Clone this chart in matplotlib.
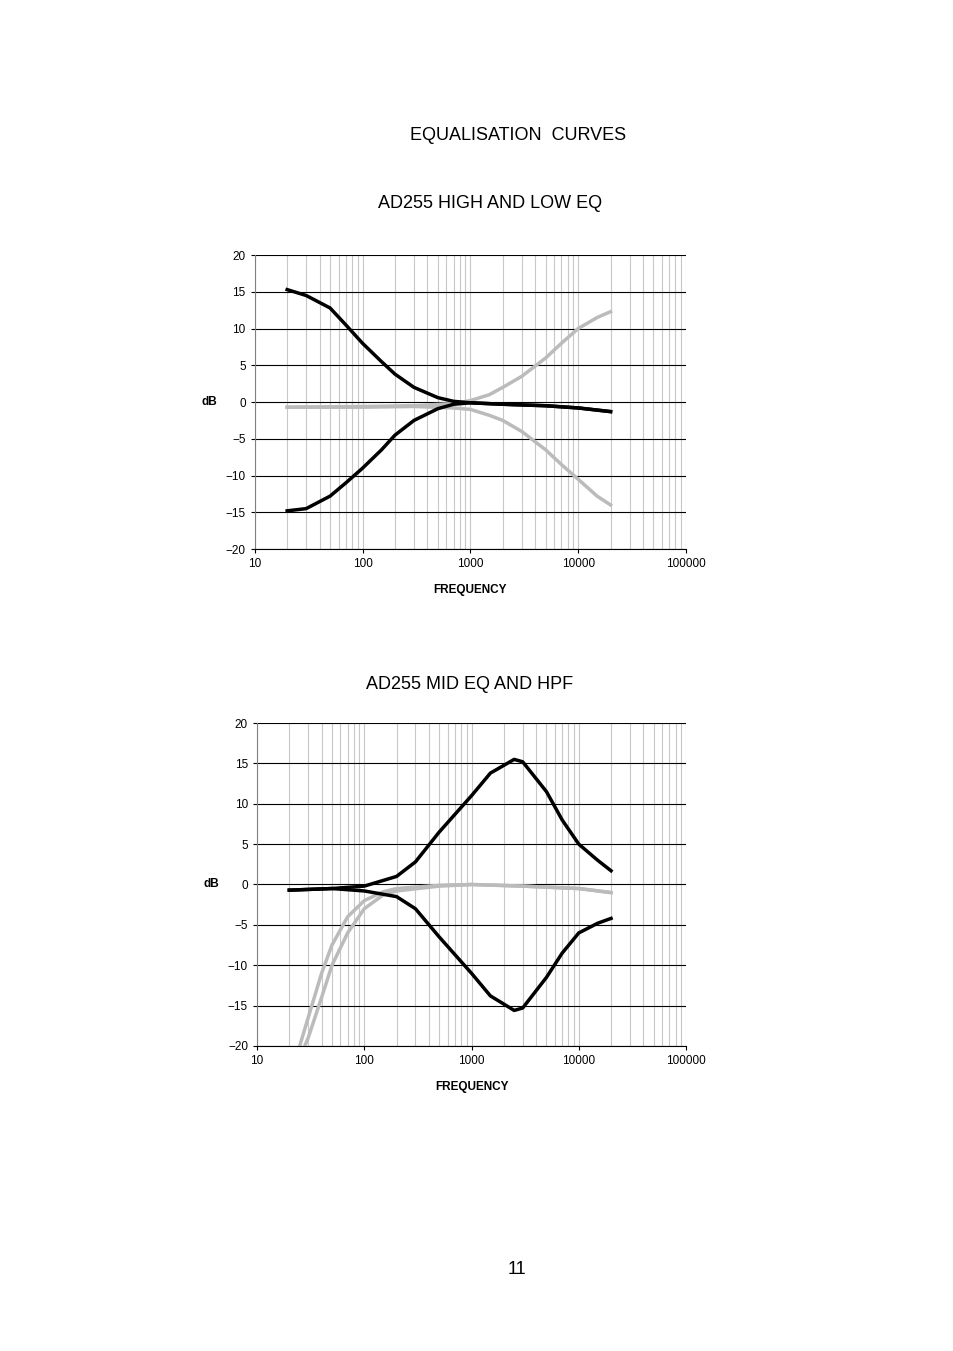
import matplotlib.pyplot as plt
from matplotlib.ticker import LogLocator, NullFormatter

# top chart: high and low EQ
f_low = [20, 30, 50, 70, 100, 150, 200, 300, 500, 700, 1000, 2000, 5000, 10000, 20000]
low_boost = [15.3, 14.5, 12.8, 10.5, 8, 5.5, 3.8, 2, 0.6, 0.1, -0.1, -0.3, -0.5, -0.8, -1.3]
low_cut = [-14.8, -14.5, -12.8, -11, -9, -6.5, -4.5, -2.5, -0.9, -0.3, -0.1, -0.3, -0.5, -0.8, -1.3]
f_high = [20, 100, 300, 700, 1000, 1500, 2000, 3000, 5000, 7000, 10000, 15000, 20000]
high_boost = [-0.7, -0.6, -0.5, -0.2, 0.2, 1, 2, 3.5, 6, 8, 10, 11.5, 12.3]
high_cut = [-0.7, -0.7, -0.6, -0.8, -1.0, -1.8, -2.5, -4, -6.5, -8.5, -10.5, -12.8, -14]

# bottom chart: mid EQ and HPF
f_mid = [20, 50, 100, 200, 300, 500, 1000, 1500, 2500, 3000, 5000, 7000, 10000, 15000, 20000]
mid_boost = [-0.7, -0.5, -0.2, 1, 2.8, 6.5, 11, 13.8, 15.5, 15.2, 11.5, 8, 5, 3, 1.7]
mid_cut = [-0.7, -0.5, -0.8, -1.5, -3, -6.5, -11, -13.8, -15.6, -15.3, -11.5, -8.5, -6, -4.8, -4.2]
f_hpf = [25, 30, 40, 50, 70, 100, 150, 200, 500, 1000, 3000, 10000, 20000]
hpf_a = [-20, -16.5, -11, -7.5, -4, -2, -0.9, -0.5, -0.1, 0, -0.2, -0.5, -1.0]
hpf_b = [-21.5, -19, -14, -10, -6, -3, -1.3, -0.8, -0.2, 0, -0.2, -0.5, -1.0]

fig = plt.figure(figsize=(9.54, 13.51), dpi=100)
plt.rcParams['font.family'] = 'Liberation Sans'


def setup(ax):
    ax.set_xscale('log')
    ax.set_xlim(10, 100000)
    ax.set_ylim(-20, 20)
    ax.set_yticks(range(-20, 21, 5))
    ax.xaxis.set_major_locator(LogLocator(base=10, numticks=10))
    ax.xaxis.set_minor_locator(LogLocator(base=10, subs=range(2, 10), numticks=50))
    ax.xaxis.set_minor_formatter(NullFormatter())
    ax.set_xticks([10, 100, 1000, 10000, 100000])
    ax.set_xticklabels(['10', '100', '1000', '10000', '100000'])
    ax.grid(True, axis='x', which='both', color='#c8c8c8', lw=0.8)
    ax.grid(True, axis='y', which='major', color='black', lw=0.8)
    ax.tick_params(labelsize=8.5, length=3)
    ax.tick_params(axis='x', which='minor', length=0)
    for s in ['top', 'right']:
        ax.spines[s].set_visible(False)
    ax.spines['left'].set_color('#808080')
    ax.spines['bottom'].set_color('black')
    ax.set_xlabel('FREQUENCY', fontsize=8.5, fontweight='bold', labelpad=10)
    ax.set_ylabel('dB', fontsize=8.5, fontweight='bold', rotation=0, labelpad=12, va='center')


ax1 = fig.add_axes([0.267, 0.5936, 0.452, 0.2176])
setup(ax1)
ax1.plot(f_high, high_boost, color='#bbbbbb', lw=2.5)
ax1.plot(f_high, high_cut, color='#bbbbbb', lw=2.5)
ax1.plot(f_low, low_boost, color='black', lw=2.5)
ax1.plot(f_low, low_cut, color='black', lw=2.5)

ax2 = fig.add_axes([0.2694, 0.2258, 0.4497, 0.239])
setup(ax2)
ax2.plot(f_hpf, hpf_a, color='#bbbbbb', lw=2.5, clip_on=True)
ax2.plot(f_hpf, hpf_b, color='#bbbbbb', lw=2.5, clip_on=True)
ax2.plot(f_mid, mid_boost, color='black', lw=2.5)
ax2.plot(f_mid, mid_cut, color='black', lw=2.5)

fig.text(518 / 954, 1 - 135 / 1351, 'EQUALISATION  CURVES', ha='center', va='center', fontsize=13)
fig.text(490 / 954, 1 - 204 / 1351, 'AD255 HIGH AND LOW EQ', ha='center', va='center', fontsize=13)
fig.text(470 / 954, 1 - 685 / 1351, 'AD255 MID EQ AND HPF', ha='center', va='center', fontsize=13)
fig.text(517 / 954, 1 - 1270 / 1351, '11', ha='center', va='center', fontsize=13)

fig.savefig('out.png', dpi=100)
